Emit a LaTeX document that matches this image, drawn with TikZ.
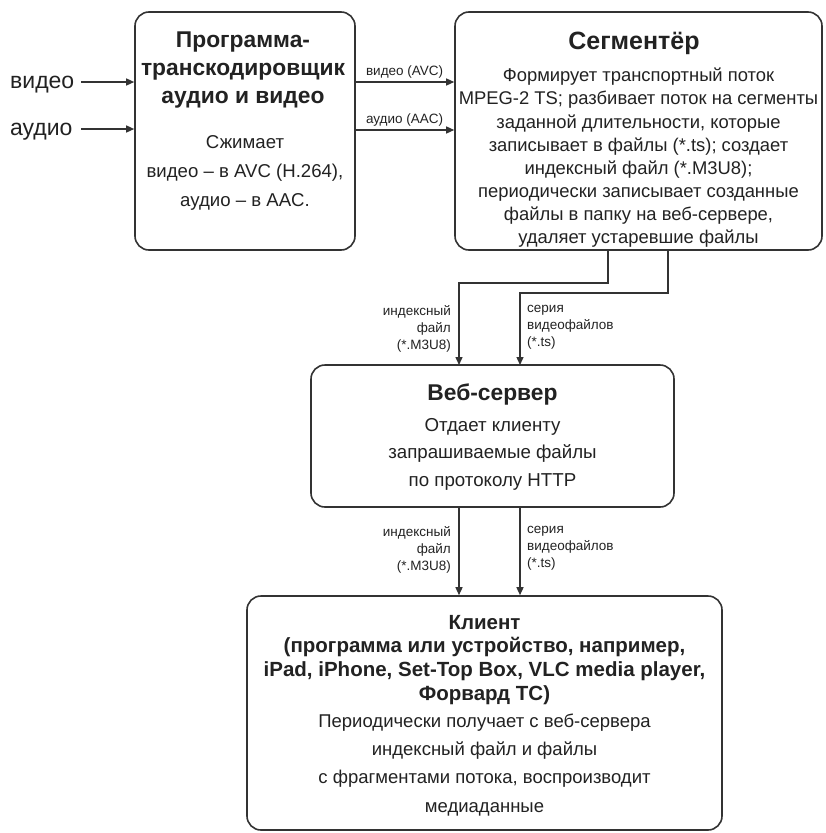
\documentclass[tikz,border=0pt]{standalone}
\usepackage{fontspec}
\setmainfont{Liberation Sans}
\usetikzlibrary{arrows.meta}
\definecolor{ln}{HTML}{333333}
\definecolor{tx}{HTML}{222222}
\begin{document}
\begin{tikzpicture}[x=1pt,y=-1pt,
  box/.style={draw=ln,line width=1.6pt,rounded corners=14pt,fill=white,inner sep=0pt},
  txt/.style={inner sep=0pt,align=center,text=tx},
  lbl/.style={inner sep=0pt,text=tx,font=\fontsize{13.5}{17}\selectfont},
  con/.style={draw=ln,line width=1.4pt,-{Triangle[length=8pt,width=7pt]}},
  inlbl/.style={inner sep=0pt,anchor=base west,text=tx,font=\fontsize{23}{27}\selectfont}]
\useasboundingbox (0,0) rectangle (825,833);
% boxes
\node[box,minimum width=220pt,minimum height=238pt] (trans) at (245,131) {};
\node[box,minimum width=367pt,minimum height=238pt] (seg) at (638.5,131) {};
\node[box,minimum width=363pt,minimum height=142pt] (web) at (492.5,436) {};
\node[box,minimum width=475pt,minimum height=234pt] (cli) at (484.5,713) {};
% texts box 1
\node[txt,anchor=north,font=\bfseries\fontsize{22.8}{28}\selectfont] (transT) at (243,32) {Программа-\\транскодировщик\\аудио и видео};
\node[txt,anchor=north,font=\fontsize{18.6}{29}\selectfont] (transB) at (245,135.4) {Сжимает\\видео – в AVC (H.264),\\аудио – в AAC.};
% segmenter
\node[txt,anchor=base,font=\bfseries\fontsize{25}{28}\selectfont] (segT) at (634,49) {Сегментёр};
\node[txt,anchor=north,font=\fontsize{18.4}{23.1}\selectfont] (segB) at (638.5,68) {Формирует транспортный поток\\MPEG-2 TS; разбивает поток на сегменты\\заданной длительности, которые\\записывает в файлы (*.ts); создает\\индексный файл (*.M3U8);\\периодически записывает созданные\\файлы в папку на веб-сервере,\\удаляет устаревшие файлы};
% web server
\node[txt,anchor=base,font=\bfseries\fontsize{22.8}{27}\selectfont] (webT) at (492.5,400) {Веб-сервер};
\node[txt,anchor=north,font=\fontsize{18.7}{27.5}\selectfont] (webB) at (492.5,418) {Отдает клиенту\\запрашиваемые файлы\\по протоколу HTTP};
% client
\node[txt,anchor=north,font=\bfseries\fontsize{20.5}{23.7}\selectfont] (cliT) at (484.5,614.7) {Клиент\\(программа или устройство, например,\\iPad, iPhone, Set-Top Box, VLC media player,\\Форвард ТС)};
\node[txt,anchor=north,font=\fontsize{18.5}{28.3}\selectfont] (cliB) at (484.5,713.4) {Периодически получает с веб-сервера\\индексный файл и файлы\\с фрагментами потока, воспроизводит\\медиаданные};
% inputs
\node[inlbl] (inV) at (10,88) {видео};
\node[inlbl] (inA) at (10,135) {аудио};
\coordinate (iv) at (81,82);
\coordinate (ia) at (81,129);
\draw[con] (iv) -- (iv -| trans.west);
\draw[con] (ia) -- (ia -| trans.west);
% transcoder -> segmenter
\coordinate (v1) at (355,82);
\coordinate (a1) at (355,130);
\draw[con] (v1) -- (v1 -| seg.west) node[lbl,pos=0.5,above=3pt] (lv) {видео (AVC)};
\draw[con] (a1) -- (a1 -| seg.west) node[lbl,pos=0.5,above=3pt] (la) {аудио (AAC)};
% segmenter -> web
\coordinate (s1) at (608,250);
\coordinate (s2) at (668,250);
\coordinate (w1) at (459,365);
\coordinate (w2) at (520,365);
\draw[con] (s1) -- (608,283) -- (459,283) -- (w1);
\draw[con] (s2) -- (668,293) -- (520,293) -- (w2);
\node[lbl,anchor=north east,align=right] (l1) at (451,305) {индексный\\файл\\(*.M3U8)};
\node[lbl,anchor=north west,align=left] (l2) at (527,305) {серия\\видеофайлов\\(*.ts)};
% web -> client
\coordinate (w3) at (459,507);
\coordinate (w4) at (520,507);
\draw[con] (w3) -- (w3 |- cli.north);
\draw[con] (w4) -- (w4 |- cli.north);
\node[lbl,anchor=north east,align=right] (l3) at (451,526) {индексный\\файл\\(*.M3U8)};
\node[lbl,anchor=north west,align=left] (l4) at (527,526) {серия\\видеофайлов\\(*.ts)};
\end{tikzpicture}
\end{document}
